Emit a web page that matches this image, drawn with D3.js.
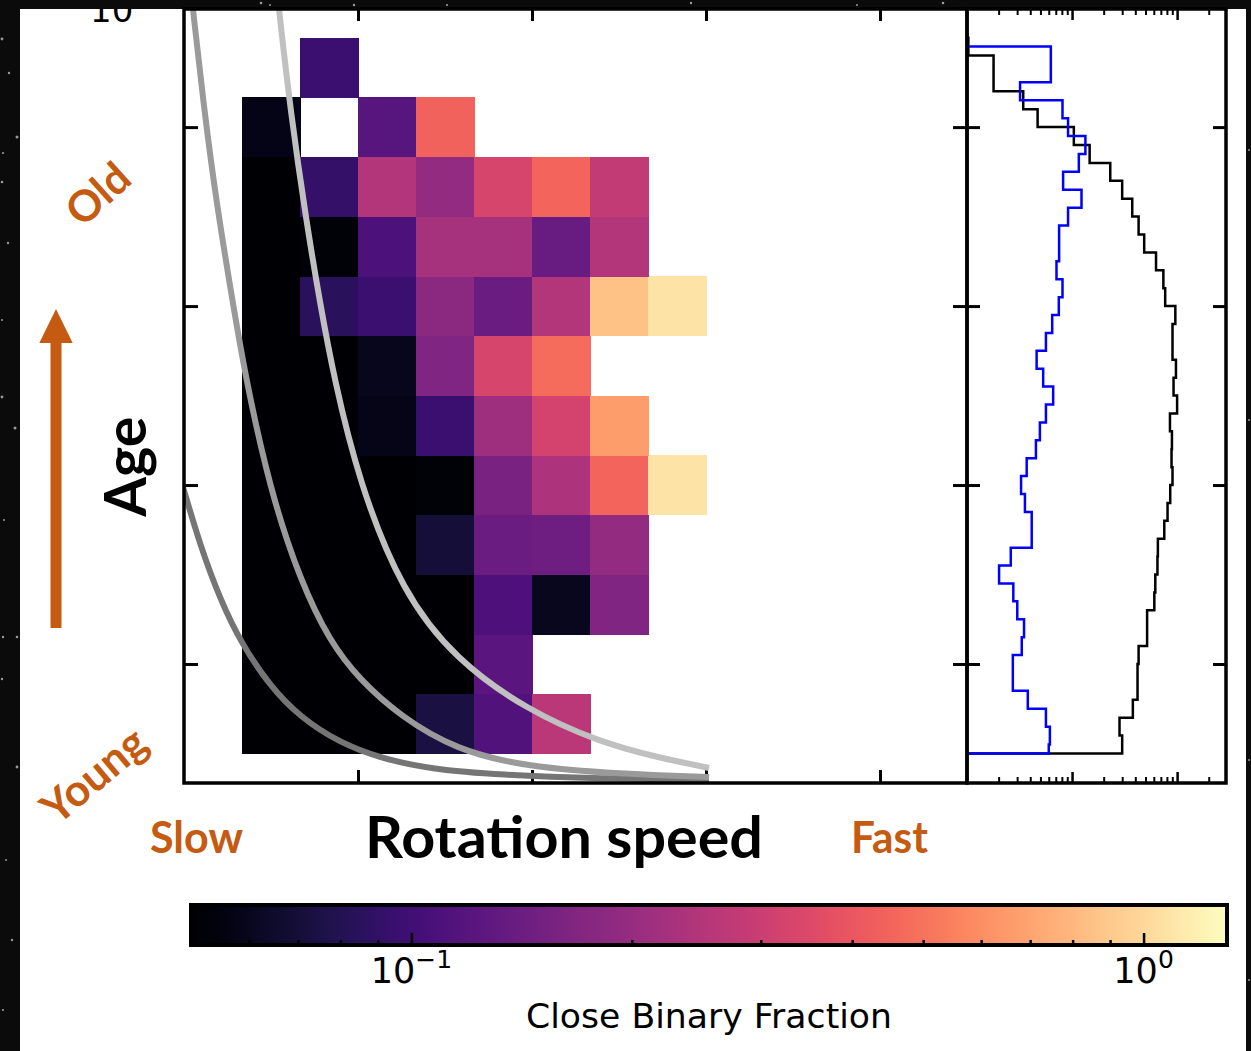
<!DOCTYPE html>
<html>
<head>
<meta charset="utf-8">
<script src="https://cdn.jsdelivr.net/npm/d3@7/dist/d3.min.js"></script>
<style>
  html, body { margin: 0; padding: 0; background: #0b0b0b; }
  svg { display: block; }
</style>
</head>
<body>
<svg id="fig" width="1251" height="1051"></svg>
<script>
// ---------------- data ----------------
// Rotation-speed bin edges (heat-map columns)
const rotEdges = [1, 2, 3, 4, 5, 6, 7, 8, 9];
// Age bin edges in Gyr (heat-map rows)
const ageEdges = [1, 1.667, 2.333, 3, 3.667, 4.333, 5, 5.667, 6.333, 7, 7.667, 8.333, 9];
// Close binary fraction per cell, youngest row first; null = empty bin
const closeBinaryFrac = [
  [0.03, 0.03, 0.03, 0.074, 0.113, 0.264, null, null],
  [0.03, 0.03, 0.03, 0.03, 0.122, null, null, null],
  [0.03, 0.03, 0.03, 0.03, 0.111, 0.060, 0.167, null],
  [0.03, 0.03, 0.03, 0.070, 0.139, 0.144, 0.193, null],
  [0.03, 0.03, 0.03, 0.052, 0.159, 0.239, 0.451, 1.08],
  [0.03, 0.03, 0.058, 0.096, 0.213, 0.321, 0.667, null],
  [0.03, 0.03, 0.059, 0.167, 0.331, 0.473, null, null],
  [0.03, 0.085, 0.096, 0.181, 0.139, 0.250, 0.865, 1.08],
  [0.03, 0.052, 0.109, 0.227, 0.227, 0.137, 0.250, null],
  [0.03, 0.091, 0.250, 0.193, 0.331, 0.451, 0.281, null],
  [0.057, null, 0.120, 0.444, null, null, null, null],
  [null, 0.096, null, null, null, null, null, null]
];

// Spin-down tracks: [rotation speed, age]
const trackA = [[-0.103, 4.145], [0, 3.944], [0.276, 3.329], [0.621, 2.726], [0.983, 2.234],
  [1.483, 1.754], [2.0, 1.407], [2.69, 1.117], [3.379, 0.949], [4.241, 0.826],
  [5.448, 0.759], [7.172, 0.72], [9.052, 0.704]];
const trackB = [[0.103, 9.642], [0.155, 9.307], [0.345, 8.212], [0.552, 7.184], [0.828, 6.089],
  [1.052, 5.229], [1.483, 3.944], [2.0, 2.938], [2.517, 2.245], [3.034, 1.821],
  [3.724, 1.419], [4.69, 1.039], [5.914, 0.849], [7.517, 0.771], [9.052, 0.737]];
const trackC = [[1.586, 9.642], [1.638, 9.307], [1.845, 8.134], [2.103, 6.972], [2.345, 6.033],
  [2.586, 5.195], [3.017, 4.033], [3.759, 2.804], [4.69, 2.044], [5.914, 1.486],
  [7.155, 1.128], [8.207, 0.949], [9.052, 0.838]];

// Age distributions (normalised), black = all stars, blue = close binaries
const ageEdgesAll = [1.0, 1.2, 1.4, 1.6, 1.8, 2.0, 2.2, 2.4, 2.6, 2.8, 3.0, 3.2, 3.4, 3.6, 3.8,
  4.0, 4.2, 4.4, 4.6, 4.8, 5.0, 5.2, 5.4, 5.6, 5.8, 6.0, 6.2, 6.4, 6.6, 6.8, 7.0, 7.2, 7.4,
  7.6, 7.8, 8.0, 8.2, 8.4, 8.6, 8.8, 9.0];
const distAll = [0.30, 0.283, 0.379, 0.42, 0.42, 0.43, 0.518, 0.518, 0.607, 0.62, 0.65, 0.656,
  0.755, 0.811, 0.86, 0.904, 0.885, 0.893, 0.855, 1.0, 0.925, 0.975, 0.904, 0.904, 0.962,
  0.77, 0.74, 0.63, 0.486, 0.43, 0.374, 0.30, 0.231, 0.147, 0.104, 0.047, 0.0343, 0.0179,
  0.0179, 0.0103];
const ageEdgesBin = [1.0, 1.1, 1.3, 1.5, 1.7, 1.9, 2.1, 2.3, 2.5, 2.7, 2.9, 3.1, 3.3, 3.5, 3.7,
  3.9, 4.1, 4.3, 4.5, 4.7, 4.9, 5.1, 5.3, 5.5, 5.7, 5.9, 6.1, 6.3, 6.5, 6.7, 6.9, 7.1, 7.3,
  7.5, 7.7, 7.9, 8.1, 8.3, 8.5, 8.7, 8.9];
const distBin = [0.060, 0.0615, 0.0564, 0.0379, 0.0273, 0.0273, 0.0332, 0.0349, 0.0301, 0.0276,
  0.0202, 0.0261, 0.0413, 0.0413, 0.0356, 0.0327, 0.0370, 0.0453, 0.0494, 0.0564, 0.0661,
  0.0531, 0.0460, 0.0564, 0.0647, 0.0748, 0.0811, 0.0711, 0.0753, 0.0753, 0.0916, 0.123,
  0.0822, 0.116, 0.134, 0.0916, 0.0811, 0.032, 0.0628, 0.0628];

// Tick values
const ageTicks = [2, 4, 6, 8];
const rotTicks = [3, 6, 9, 12];
const histMajor = [0.1, 1];
const histMinor = [0.02, 0.03, 0.04, 0.05, 0.06, 0.07, 0.08, 0.09,
  0.2, 0.3, 0.4, 0.5, 0.6, 0.7, 0.8, 0.9, 2];
const cbarMajor = [0.1, 1];
const cbarMinor = [0.06, 0.07, 0.08, 0.09, 0.2, 0.3, 0.4, 0.5, 0.6, 0.7, 0.8, 0.9];
const cbarLabels = [{ v: 0.1, base: "10", exp: "\u22121" }, { v: 1, base: "10", exp: "0" }];

// Background starfield dots
const stars = [[2, 39, 1.4], [9, 73, 1.2], [17, 137, 1.5], [3, 153, 1.1], [2, 182, 1.3],
  [8, 243, 1.2], [2, 320, 1], [2, 397, 1.4], [15, 428, 1.5], [4, 520, 1], [3, 637, 1.2],
  [17, 637, 1.3], [2, 679, 1.2], [17, 767, 1.4], [6, 860, 1], [12, 940, 1.2], [3, 1010, 1.1],
  [261, 3, 1.3], [270, 5, 1], [354, 5, 1.2], [447, 5, 1.1], [691, 3, 1.2], [857, 5, 1],
  [943, 3, 1.3], [1249, 150, 1], [1249, 420, 1], [1249, 760, 1], [1249, 980, 1]];

// ---------------- layout / scales ----------------
const svg = d3.select("#fig");
const x = d3.scaleLinear().domain([0, 13.5]).range([184, 967]);
const y = d3.scaleLinear().domain([0.67, 9.32]).range([783, 9]);
const hx = d3.scaleLog().domain([0.01, 2.92]).range([967, 1226]);
const cbx = d3.scaleLog().domain([0.05, 1.3]).range([191, 1227]);
const color = d3.scaleSequentialLog(d3.interpolateMagma).domain([0.05, 1.3]).clamp(true);
const orange = "#c55a11";

// background
svg.append("rect").attr("width", 1251).attr("height", 1051).attr("fill", "#0b0b0b");
svg.append("g").selectAll("circle").data(stars).join("circle")
  .attr("cx", d => d[0]).attr("cy", d => d[1]).attr("r", d => d[2]).attr("fill", "#9a9a9a");
svg.append("rect").attr("x", 20).attr("y", 9).attr("width", 1226).attr("height", 1042)
  .attr("fill", "#ffffff");

// partial tick label at the top of the age axis
svg.append("text").attr("x", 90).attr("y", 21.7)
  .attr("font-family", "DejaVu Sans").attr("font-size", 34).attr("fill", "#000").text("10");
svg.append("rect").attr("x", 20).attr("y", 0).attr("width", 1226).attr("height", 9)
  .attr("fill", "#0b0b0b");
svg.append("g").selectAll("circle").data(stars.filter(s => s[1] < 9)).join("circle")
  .attr("cx", d => d[0]).attr("cy", d => d[1]).attr("r", d => d[2]).attr("fill", "#9a9a9a");

// ---------------- heat map ----------------
const cells = [];
closeBinaryFrac.forEach((row, r) => row.forEach((v, c) => {
  if (v !== null) cells.push({ r, c, v });
}));
svg.append("g").attr("shape-rendering", "crispEdges").selectAll("rect").data(cells).join("rect")
  .attr("x", d => x(rotEdges[d.c]))
  .attr("y", d => y(ageEdges[d.r + 1]))
  .attr("width", d => x(rotEdges[d.c + 1]) - x(rotEdges[d.c]) + 0.5)
  .attr("height", d => y(ageEdges[d.r]) - y(ageEdges[d.r + 1]) + 0.5)
  .attr("fill", d => color(d.v));

// ---------------- axes ticks ----------------
function styleTicks(g, w) {
  g.select(".domain").remove();
  g.selectAll(".tick line").attr("stroke", "#000").attr("stroke-width", w);
  g.selectAll(".tick text").remove();
}
svg.append("g").attr("transform", "translate(0,783)")
  .call(d3.axisBottom(x).tickValues(rotTicks).tickSize(-13).tickSizeOuter(0).tickFormat(""))
  .call(g => styleTicks(g, 3));
svg.append("g").attr("transform", "translate(0,9)")
  .call(d3.axisTop(x).tickValues(rotTicks).tickSize(-12).tickSizeOuter(0).tickFormat(""))
  .call(g => styleTicks(g, 3));
svg.append("g").attr("transform", "translate(184,0)")
  .call(d3.axisLeft(y).tickValues(ageTicks).tickSize(-14).tickSizeOuter(0).tickFormat(""))
  .call(g => styleTicks(g, 3));
svg.append("g").attr("transform", "translate(967,0)")
  .call(d3.axisRight(y).tickValues(ageTicks).tickSize(-14).tickSizeOuter(0).tickFormat(""))
  .call(g => styleTicks(g, 3));
// side panel ticks
svg.append("g").attr("transform", "translate(967,0)")
  .call(d3.axisLeft(y).tickValues(ageTicks).tickSize(-13).tickSizeOuter(0).tickFormat(""))
  .call(g => styleTicks(g, 3));
svg.append("g").attr("transform", "translate(1226,0)")
  .call(d3.axisRight(y).tickValues(ageTicks).tickSize(-13).tickSizeOuter(0).tickFormat(""))
  .call(g => styleTicks(g, 3));
[[d3.axisTop, 9], [d3.axisBottom, 783]].forEach(([ax, ty]) => {
  svg.append("g").attr("transform", `translate(0,${ty})`)
    .call(ax(hx).tickValues(histMajor).tickSize(-11).tickSizeOuter(0).tickFormat(""))
    .call(g => styleTicks(g, 2.5));
  svg.append("g").attr("transform", `translate(0,${ty})`)
    .call(ax(hx).tickValues(histMinor).tickSize(-6).tickSizeOuter(0).tickFormat(""))
    .call(g => styleTicks(g, 2));
});

// ---------------- spin-down tracks ----------------
svg.append("clipPath").attr("id", "mainClip").append("rect")
  .attr("x", 184).attr("y", 9).attr("width", 783).attr("height", 774);
const trackLine = d3.line().x(d => x(d[0])).y(d => y(d[1])).curve(d3.curveBasis);
const tracks = [{ pts: trackA, c: "#757575" }, { pts: trackB, c: "#9a9a9a" }, { pts: trackC, c: "#c0c0c0" }];
svg.append("g").attr("clip-path", "url(#mainClip)").selectAll("path").data(tracks).join("path")
  .attr("d", d => trackLine(d.pts)).attr("fill", "none")
  .attr("stroke", d => d.c).attr("stroke-width", 6);

// ---------------- age distributions ----------------
function stepPoints(edges, vals) {
  const lo = hx.domain()[0];
  const pts = [[lo, edges[0]]];
  vals.forEach((v, i) => { pts.push([v, edges[i]]); pts.push([v, edges[i + 1]]); });
  pts.push([lo, edges[edges.length - 1]]);
  return pts;
}
const histLine = d3.line().x(d => hx(d[0])).y(d => y(d[1]));
svg.append("path").attr("d", histLine(stepPoints(ageEdgesAll, distAll)))
  .attr("fill", "none").attr("stroke", "#000").attr("stroke-width", 2.5);
svg.append("path").attr("d", histLine(stepPoints(ageEdgesBin, distBin)))
  .attr("fill", "none").attr("stroke", "#0000ff").attr("stroke-width", 2.5);

// ---------------- spines ----------------
svg.append("rect").attr("x", 184).attr("y", 9).attr("width", 783).attr("height", 774)
  .attr("fill", "none").attr("stroke", "#000").attr("stroke-width", 3.5);
svg.append("rect").attr("x", 967).attr("y", 9).attr("width", 259).attr("height", 774)
  .attr("fill", "none").attr("stroke", "#000").attr("stroke-width", 3.5);

// ---------------- annotations ----------------
svg.append("text").attr("x", 365).attr("y", 858)
  .attr("font-family", "Lato").attr("font-weight", 700).attr("font-size", 57)
  .attr("textLength", 398).attr("lengthAdjust", "spacingAndGlyphs").attr("fill", "#000")
  .text("Rotation speed");
svg.append("text").attr("x", 150).attr("y", 852.5)
  .attr("font-family", "Lato").attr("font-weight", 700).attr("font-size", 43)
  .attr("textLength", 93).attr("lengthAdjust", "spacingAndGlyphs").attr("fill", orange)
  .text("Slow");
svg.append("text").attr("x", 851).attr("y", 852.5)
  .attr("font-family", "Lato").attr("font-weight", 700).attr("font-size", 43)
  .attr("textLength", 77).attr("lengthAdjust", "spacingAndGlyphs").attr("fill", orange)
  .text("Fast");
svg.append("text").attr("transform", "translate(146,466.7) rotate(-90)")
  .attr("text-anchor", "middle")
  .attr("font-family", "Lato").attr("font-weight", 700).attr("font-size", 58)
  .attr("textLength", 100).attr("lengthAdjust", "spacingAndGlyphs").attr("fill", "#000")
  .text("Age");
svg.append("text").attr("transform", "translate(97,193) rotate(-42)")
  .attr("text-anchor", "middle").attr("dominant-baseline", "central")
  .attr("font-family", "Lato").attr("font-weight", 700).attr("font-size", 43)
  .attr("fill", orange).text("Old");
svg.append("text").attr("transform", "translate(93,774) rotate(-40)")
  .attr("text-anchor", "middle").attr("dominant-baseline", "central")
  .attr("font-family", "Lato").attr("font-weight", 700).attr("font-size", 44)
  .attr("fill", orange).text("Young");
// age arrow
svg.append("rect").attr("x", 50.5).attr("y", 340).attr("width", 11).attr("height", 288)
  .attr("fill", orange);
svg.append("path").attr("d", "M39.3,343 L72.7,343 L56,309 Z").attr("fill", orange);

// ---------------- colour bar ----------------
const grad = svg.append("defs").append("linearGradient").attr("id", "magmaGrad")
  .attr("x1", "0%").attr("x2", "100%").attr("y1", "0%").attr("y2", "0%");
d3.range(0, 1.0001, 0.025).forEach(t => {
  grad.append("stop").attr("offset", (t * 100) + "%").attr("stop-color", d3.interpolateMagma(t));
});
svg.append("rect").attr("x", 191).attr("y", 905).attr("width", 1036).attr("height", 40)
  .attr("fill", "url(#magmaGrad)");
svg.append("g").attr("transform", "translate(0,945)")
  .call(d3.axisBottom(cbx).tickValues(cbarMajor).tickSize(-12).tickSizeOuter(0).tickFormat(""))
  .call(g => styleTicks(g, 2.5));
svg.append("g").attr("transform", "translate(0,945)")
  .call(d3.axisBottom(cbx).tickValues(cbarMinor).tickSize(-5).tickSizeOuter(0).tickFormat(""))
  .call(g => styleTicks(g, 2.5));
svg.append("rect").attr("x", 191).attr("y", 905).attr("width", 1036).attr("height", 40)
  .attr("fill", "none").attr("stroke", "#000").attr("stroke-width", 4);
cbarLabels.forEach(l => {
  const t = svg.append("text").attr("x", cbx(l.v)).attr("y", 983)
    .attr("text-anchor", "middle").attr("font-family", "DejaVu Sans").attr("fill", "#000");
  t.append("tspan").attr("font-size", 35).text(l.base);
  t.append("tspan").attr("font-size", 25).attr("dy", -15).text(l.exp);
});
svg.append("text").attr("x", 709).attr("y", 1028).attr("text-anchor", "middle")
  .attr("font-family", "DejaVu Sans").attr("font-size", 34)
  .attr("textLength", 366).attr("lengthAdjust", "spacingAndGlyphs").attr("fill", "#000")
  .text("Close Binary Fraction");
</script>
</body>
</html>
